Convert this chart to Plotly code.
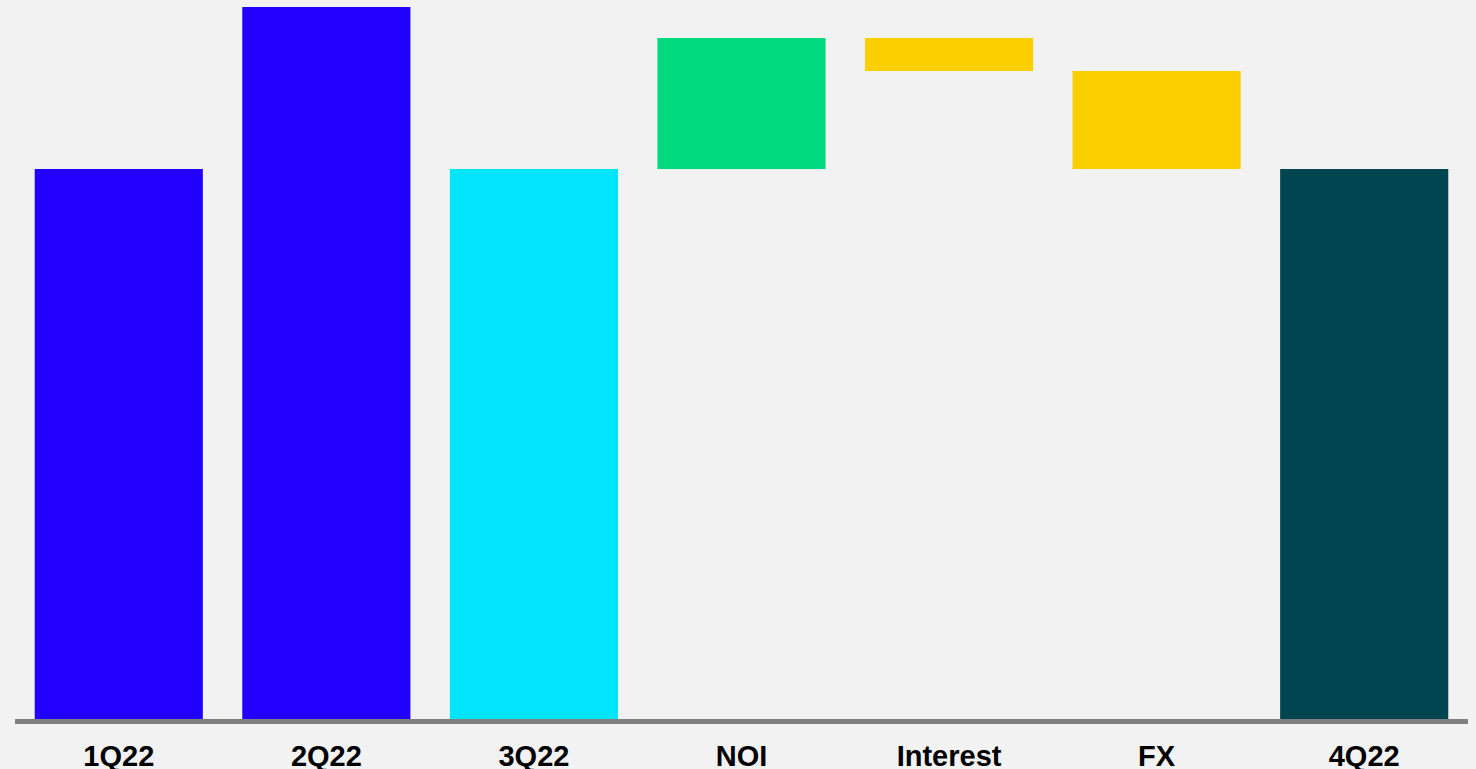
import plotly.graph_objects as go

categories = ["1Q22", "2Q22", "3Q22", "NOI", "Interest", "FX", "4Q22"]
measures = ["absolute", "absolute", "absolute", "relative", "relative", "relative", "total"]
values = [550, 712, 550, 131, -33, -98, 550]
colors = ["#2100ff", "#2100ff", "#00e5fb", "#00d97e", "#fcd000", "#fcd000", "#00454f"]

bases, heights = [], []
running = 0
for m, v in zip(measures, values):
    if m == "absolute":
        bases.append(0); heights.append(v); running = v
    elif m == "relative":
        if v >= 0:
            bases.append(running); heights.append(v)
        else:
            bases.append(running + v); heights.append(-v)
        running += v
    else:
        bases.append(0); heights.append(running)

fig = go.Figure(go.Bar(
    x=categories, y=heights, base=bases,
    marker=dict(color=colors, line=dict(width=0)),
    hoverinfo="skip",
))

fig.update_layout(
    width=1476, height=769,
    margin=dict(l=15, r=8, t=0, b=50),
    paper_bgcolor="#f2f2f2", plot_bgcolor="#f2f2f2",
    bargap=0.19,
    showlegend=False,
    font=dict(family="Liberation Sans, Arial, sans-serif", color="#000000"),
)
fig.update_xaxes(
    showline=True, linecolor="#808080", linewidth=5,
    showgrid=False, zeroline=False, ticks="",
    automargin=False,
    ticklabelstandoff=7,
    tickfont=dict(size=29, family="Liberation Sans, Arial, sans-serif", weight="bold", color="#000000"),
    range=[-0.5, 6.5],
)
fig.update_yaxes(visible=False, range=[0, 719], showgrid=False, zeroline=False, automargin=False)

fig.write_html(
    "out.html",
    config={"displayModeBar": False},
    post_script="document.body.style.margin='0';document.body.style.background='#f2f2f2';document.body.style.overflow='hidden';",
)
